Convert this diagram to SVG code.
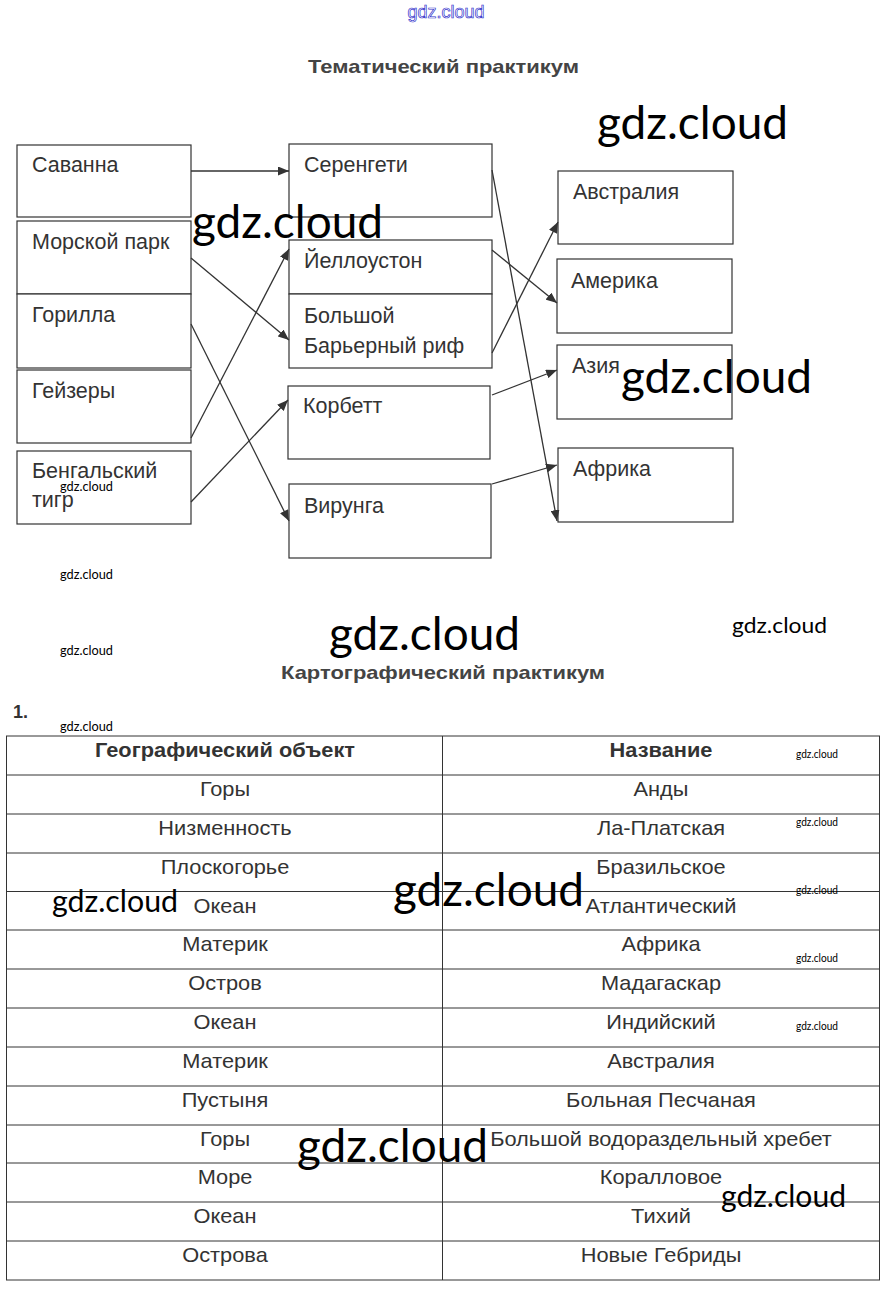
<svg xmlns="http://www.w3.org/2000/svg" width="893" height="1299" viewBox="0 0 893 1299">
<style>
.box{fill:#fff;stroke:#333;stroke-width:1.2}
.lbl{font-family:"Liberation Sans",Arial,sans-serif;font-size:21.5px;fill:#333}
.cell{font-family:"Liberation Sans",Arial,sans-serif;font-size:20px;fill:#333;text-anchor:middle}
.hdr{font-family:"Liberation Sans",Arial,sans-serif;font-size:20px;font-weight:bold;fill:#333;text-anchor:middle}
.ttl{font-family:"Liberation Sans",Arial,sans-serif;font-size:19px;font-weight:bold;fill:#444}
.wm{font-family:Lato,"Open Sans",sans-serif;fill:#000}
.conn line{stroke:#333;stroke-width:1.3;marker-end:url(#ah)}
.grid line{stroke:#333;stroke-width:1}
</style>
<defs>
<marker id="ah" markerUnits="userSpaceOnUse" markerWidth="12" markerHeight="9" refX="11" refY="4.5" orient="auto">
<path d="M0,0 L11,4.5 L0,9 z" fill="#333"/>
</marker>
</defs>
<rect width="893" height="1299" fill="#fff"/>

<text x="446" y="18" font-family="Liberation Sans,Arial,sans-serif" font-size="18" fill="#fff" stroke="#3333cc" stroke-width="0.7" text-anchor="middle" textLength="77" lengthAdjust="spacingAndGlyphs">gdz.cloud</text>

<text class="ttl" x="308" y="73" textLength="271" lengthAdjust="spacingAndGlyphs">Тематический практикум</text>

<g id="n-savanna"><rect class="box" x="17" y="145" width="174" height="72"/><text class="lbl" x="32" y="172">Саванна</text></g>
<g id="n-morskoy"><rect class="box" x="17" y="221" width="174" height="73"/><text class="lbl" x="32" y="249">Морской парк</text></g>
<g id="n-gorilla"><rect class="box" x="17" y="294" width="174" height="74"/><text class="lbl" x="32" y="322">Горилла</text></g>
<g id="n-geysers"><rect class="box" x="17" y="370" width="174" height="73"/><text class="lbl" x="32" y="398">Гейзеры</text></g>
<g id="n-tiger"><rect class="box" x="17" y="451" width="174" height="73"/><text class="lbl" x="32" y="478">Бенгальский</text><text class="lbl" x="32" y="507">тигр</text></g>

<g id="n-serengeti"><rect class="box" x="289" y="144" width="203" height="73"/><text class="lbl" x="304" y="172">Серенгети</text></g>
<g id="n-yellowstone"><rect class="box" x="289" y="240" width="203" height="54"/><text class="lbl" x="304" y="268">Йеллоустон</text></g>
<g id="n-reef"><rect class="box" x="289" y="294" width="203" height="74"/><text class="lbl" x="304" y="323">Большой</text><text class="lbl" x="304" y="353">Барьерный риф</text></g>
<g id="n-corbett"><rect class="box" x="288" y="386" width="202" height="73"/><text class="lbl" x="303" y="413">Корбетт</text></g>
<g id="n-virunga"><rect class="box" x="289" y="484" width="202" height="74"/><text class="lbl" x="304" y="513">Вирунга</text></g>

<g id="n-australia"><rect class="box" x="558" y="171" width="175" height="73"/><text class="lbl" x="573" y="199">Австралия</text></g>
<g id="n-america"><rect class="box" x="557" y="259" width="175" height="74"/><text class="lbl" x="571" y="288">Америка</text></g>
<g id="n-asia"><rect class="box" x="557" y="345" width="175" height="74"/><text class="lbl" x="572" y="373" font-size="19.5">Азия</text></g>
<g id="n-africa"><rect class="box" x="558" y="448" width="175" height="74"/><text class="lbl" x="573" y="476">Африка</text></g>

<g id="connectors" class="conn">
<line x1="191" y1="171" x2="289" y2="171"/>
<line x1="191" y1="258" x2="289" y2="340"/>
<line x1="191" y1="324" x2="289" y2="521"/>
<line x1="191" y1="438" x2="289" y2="249"/>
<line x1="191" y1="502" x2="288" y2="400"/>
<line x1="492" y1="170" x2="557" y2="521"/>
<line x1="492" y1="250" x2="557" y2="303"/>
<line x1="492" y1="353" x2="558" y2="222"/>
<line x1="492" y1="395" x2="557" y2="370"/>
<line x1="492" y1="484" x2="557" y2="465"/>
</g>

<text class="ttl" x="281" y="679" textLength="324" lengthAdjust="spacingAndGlyphs">Картографический практикум</text>
<text x="13" y="718" font-family="Liberation Sans,Arial,sans-serif" font-size="18" font-weight="bold" fill="#333">1.</text>

<g id="table">
<g class="grid">
<line x1="6" y1="736" x2="880" y2="736"/>
<line x1="6" y1="775" x2="880" y2="775"/>
<line x1="6" y1="814" x2="880" y2="814"/>
<line x1="6" y1="853" x2="880" y2="853"/>
<line x1="6" y1="891.5" x2="880" y2="891.5"/>
<line x1="6" y1="930" x2="880" y2="930"/>
<line x1="6" y1="969" x2="880" y2="969"/>
<line x1="6" y1="1008" x2="880" y2="1008"/>
<line x1="6" y1="1047" x2="880" y2="1047"/>
<line x1="6" y1="1086" x2="880" y2="1086"/>
<line x1="6" y1="1125" x2="880" y2="1125"/>
<line x1="6" y1="1163" x2="880" y2="1163"/>
<line x1="6" y1="1202" x2="880" y2="1202"/>
<line x1="6" y1="1241" x2="880" y2="1241"/>
<line x1="6" y1="1280" x2="880" y2="1280"/>
<line x1="6.5" y1="736" x2="6.5" y2="1280"/>
<line x1="442.5" y1="736" x2="442.5" y2="1280"/>
<line x1="879.5" y1="736" x2="879.5" y2="1280"/>
</g>
<g id="col-object" transform="translate(225,0) scale(1.09,1)">
<text class="hdr" x="0" y="757">Географический объект</text>
<text class="cell" x="0" y="796">Горы</text>
<text class="cell" x="0" y="835">Низменность</text>
<text class="cell" x="0" y="874">Плоскогорье</text>
<text class="cell" x="0" y="913">Океан</text>
<text class="cell" x="0" y="951">Материк</text>
<text class="cell" x="0" y="990">Остров</text>
<text class="cell" x="0" y="1029">Океан</text>
<text class="cell" x="0" y="1068">Материк</text>
<text class="cell" x="0" y="1107">Пустыня</text>
<text class="cell" x="0" y="1146">Горы</text>
<text class="cell" x="0" y="1184">Море</text>
<text class="cell" x="0" y="1223">Океан</text>
<text class="cell" x="0" y="1262">Острова</text>
</g>
<g id="col-name" transform="translate(661,0) scale(1.09,1)">
<text class="hdr" x="0" y="757">Название</text>
<text class="cell" x="0" y="796">Анды</text>
<text class="cell" x="0" y="835">Ла-Платская</text>
<text class="cell" x="0" y="874">Бразильское</text>
<text class="cell" x="0" y="913">Атлантический</text>
<text class="cell" x="0" y="951">Африка</text>
<text class="cell" x="0" y="990">Мадагаскар</text>
<text class="cell" x="0" y="1029">Индийский</text>
<text class="cell" x="0" y="1068">Австралия</text>
<text class="cell" x="0" y="1107">Больная Песчаная</text>
<text class="cell" x="0" y="1146">Большой водораздельный хребет</text>
<text class="cell" x="0" y="1184">Коралловое</text>
<text class="cell" x="0" y="1223">Тихий</text>
<text class="cell" x="0" y="1262">Новые Гебриды</text>
</g>
</g>

<g id="watermarks" class="wm">
<text x="597" y="139" font-size="46" textLength="191" lengthAdjust="spacingAndGlyphs">gdz.cloud</text>
<text x="192" y="238" font-size="46" textLength="191" lengthAdjust="spacingAndGlyphs">gdz.cloud</text>
<text x="621" y="393" font-size="46" textLength="191" lengthAdjust="spacingAndGlyphs">gdz.cloud</text>
<text x="329" y="650" font-size="46" textLength="191" lengthAdjust="spacingAndGlyphs">gdz.cloud</text>
<text x="393" y="906" font-size="46" textLength="191" lengthAdjust="spacingAndGlyphs">gdz.cloud</text>
<text x="297" y="1162" font-size="46" textLength="191" lengthAdjust="spacingAndGlyphs">gdz.cloud</text>
<text x="52" y="912" font-size="30" textLength="126" lengthAdjust="spacingAndGlyphs">gdz.cloud</text>
<text x="721" y="1207" font-size="30" textLength="125" lengthAdjust="spacingAndGlyphs">gdz.cloud</text>
<text x="732" y="633" font-size="22" textLength="95" lengthAdjust="spacingAndGlyphs">gdz.cloud</text>
<text x="60" y="491" font-size="13" textLength="53" lengthAdjust="spacingAndGlyphs">gdz.cloud</text>
<text x="60" y="579" font-size="13" textLength="53" lengthAdjust="spacingAndGlyphs">gdz.cloud</text>
<text x="60" y="655" font-size="13" textLength="53" lengthAdjust="spacingAndGlyphs">gdz.cloud</text>
<text x="60" y="731" font-size="13" textLength="53" lengthAdjust="spacingAndGlyphs">gdz.cloud</text>
<text x="796" y="758" font-size="11" textLength="42" lengthAdjust="spacingAndGlyphs">gdz.cloud</text>
<text x="796" y="826" font-size="11" textLength="42" lengthAdjust="spacingAndGlyphs">gdz.cloud</text>
<text x="796" y="894" font-size="11" textLength="42" lengthAdjust="spacingAndGlyphs">gdz.cloud</text>
<text x="796" y="962" font-size="11" textLength="42" lengthAdjust="spacingAndGlyphs">gdz.cloud</text>
<text x="796" y="1030" font-size="11" textLength="42" lengthAdjust="spacingAndGlyphs">gdz.cloud</text>
</g>
</svg>
